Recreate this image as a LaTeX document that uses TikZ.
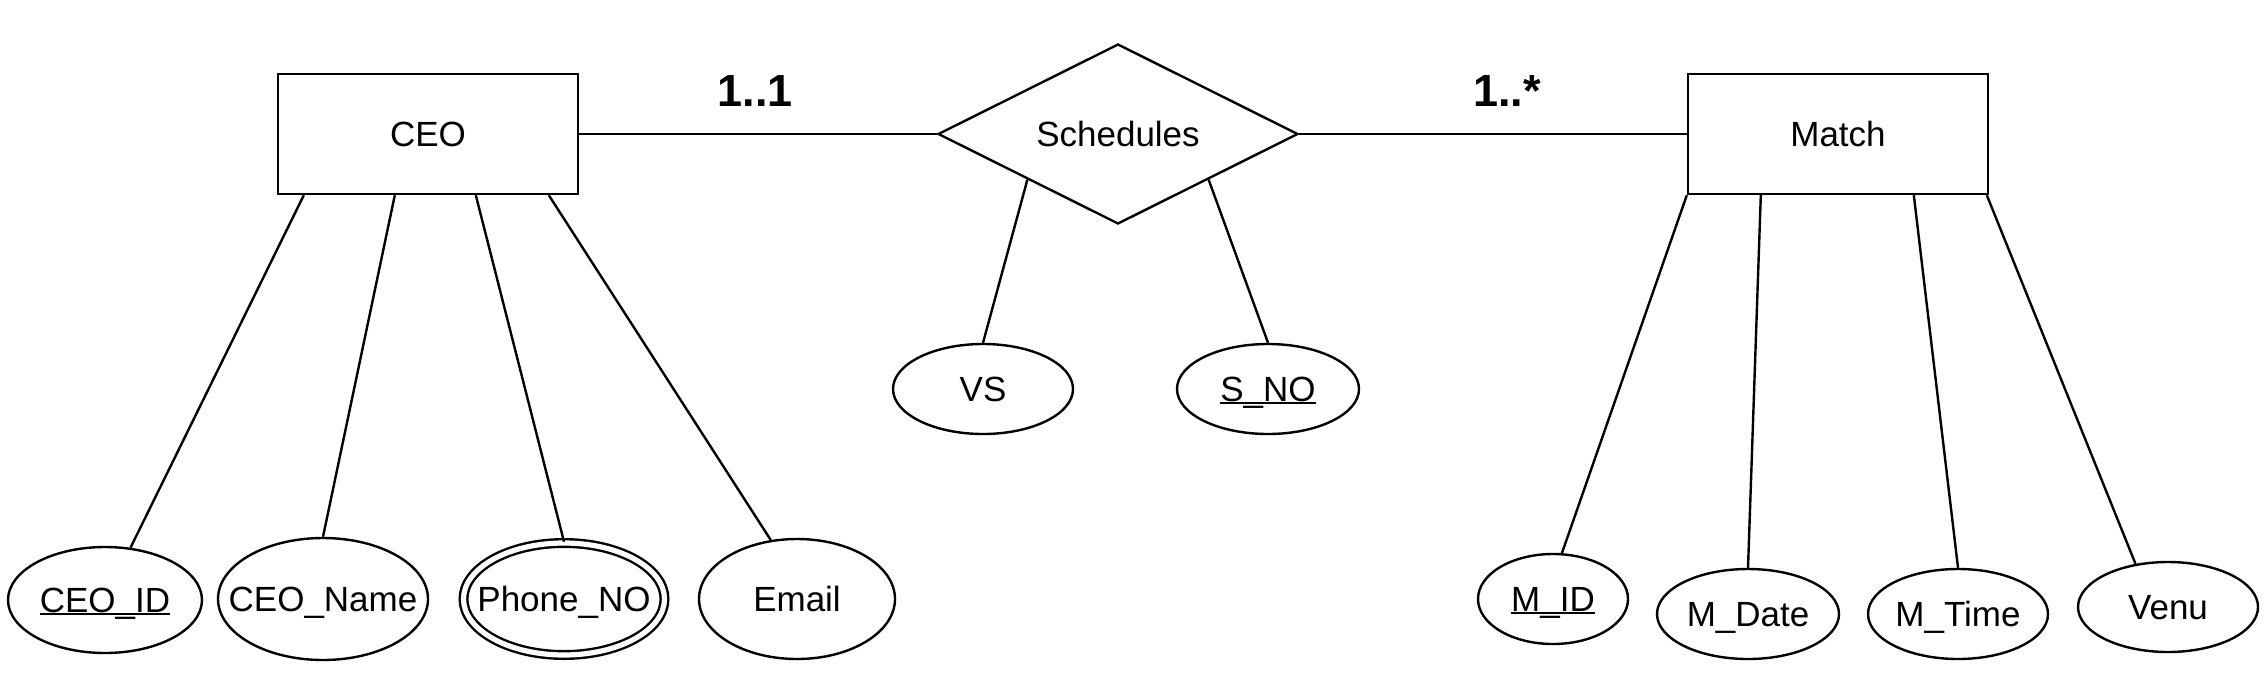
\documentclass[tikz,border=0pt]{standalone}
\usepackage{fontspec}
\setmainfont{Liberation Sans}
\usetikzlibrary{shapes.geometric}

\newcommand{\attname}[1]{\makebox[0pt]{#1}}
\newcommand{\keyname}[1]{\makebox[0pt]{\setbox0\hbox{#1}\rlap{\rule[-1.5pt]{\wd0}{1pt}}\box0}}

\begin{document}
\begin{tikzpicture}[x=0.5pt,y=-0.5pt,line width=1.2pt,
		font=\fontsize{17.5}{21}\selectfont,
		entity/.style={draw,rectangle,minimum width=150pt,minimum height=60pt,inner sep=0pt},
		relation/.style={draw,diamond,aspect=2,minimum width=180pt,minimum height=90pt,inner sep=0pt},
		attrib/.style={draw,ellipse,inner sep=0pt,text height=14pt,text depth=2pt},
		card/.style={font=\fontsize{22.5}{26}\selectfont\bfseries}]
		\useasboundingbox (0,0) rectangle (2268,680);
		
		% entities and relationship
		\node[entity] (ceo) at (428,134) {CEO};
		\node[relation] (sched) at (1118,134) {Schedules};
		\node[entity] (match) at (1838,134) {Match};
		\draw (ceo.east) -- (sched.west);
		\draw (sched.east) -- (match.west);
		
		% cardinalities
		\node[card] (card1) at (755,91) {1..1};
		\node[card] (card2) at (1507,91) {1..*};
		
		% relationship attributes
		\node[attrib,minimum width=90pt,minimum height=45pt] (vs) at (983,389) {\attname{VS}};
		\node[attrib,minimum width=91pt,minimum height=45pt] (sno) at (1268,389) {\keyname{S\_NO}};
		\draw (sched.south west) -- (vs.north);
		\draw (sched.south east) -- (sno.north);
		
		% CEO attributes
		\node[attrib,minimum width=97pt,minimum height=53pt] (ceoid) at (105,600) {\keyname{CEO\_ID}};
		\node[attrib,minimum width=105pt,minimum height=61pt] (ceoname) at (323,599) {\attname{CEO\_Name}};
		\node[attrib,double,double distance=2.6pt,minimum width=100.5pt,minimum height=56pt] (phone) at (564,599) {\attname{Phone\_NO}};
		\node[attrib,minimum width=98pt,minimum height=60pt] (email) at (797,599) {\attname{Email}};
		\foreach \dx/\att in {13.5/ceoid.64, 59/ceoname.north, 99.5/phone.north, 136/email.114}
			\draw ([xshift=\dx pt]ceo.south west) -- (\att);
		
		% Match attributes
		\node[attrib,minimum width=75pt,minimum height=45pt] (mid) at (1553,599) {\keyname{M\_ID}};
		\node[attrib,minimum width=91pt,minimum height=45pt] (mdate) at (1748,614) {\attname{M\_Date}};
		\node[attrib,minimum width=90pt,minimum height=45pt] (mtime) at (1958,614) {\attname{M\_Time}};
		\node[attrib,minimum width=90pt,minimum height=45pt] (venu) at (2168,607) {\attname{Venu}};
		\foreach \dx/\att in {0/mid.79, 37/mdate.north, 113.5/mtime.north, 150/venu.127}
			\draw ([xshift=\dx pt]match.south west) -- (\att);
		
	\end{tikzpicture}
\end{document}
